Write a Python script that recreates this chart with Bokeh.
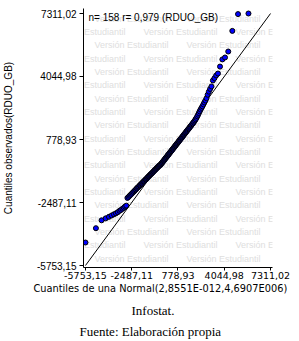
from bokeh.plotting import figure
from bokeh.models import Range1d, FixedTicker, CustomJSTickFormatter, Label, LabelSet, ColumnDataSource, Title
from bokeh.core.properties import value
from bokeh.embed import file_html
from bokeh.resources import INLINE

# ---- data ----
tick_values = [-5753.15, -2487.11, 778.93, 4044.98, 7311.02]

theoretical = [
    -5753.15, -5016, -4614, -4326, -4098, -3910, -3745, -3600, -3472, -3353,
    -3243, -3141, -3045, -2957, -2872, -2792, -2714, -2640, -2571, -2502,
    -2437, -2372, -2311, -2250, -2194, -2138, -2082, -2027, -1975, -1923,
    -1874, -1824, -1776, -1728, -1681, -1635, -1590, -1544, -1501, -1458,
    -1414, -1373, -1330, -1289, -1250, -1209, -1170, -1131, -1092, -1053,
    -1014, -977, -938, -901, -864, -827, -791, -754, -717, -680,
    -645, -609, -574, -537, -503, -468, -431, -396, -362, -327,
    -292, -258, -223, -188, -154, -119, -87, -52, -17, 17,
    52, 87, 119, 154, 188, 223, 258, 292, 327, 362,
    396, 431, 468, 503, 537, 574, 609, 645, 680, 717,
    754, 791, 827, 864, 901, 938, 977, 1014, 1053, 1092,
    1131, 1170, 1209, 1250, 1289, 1330, 1373, 1414, 1458, 1501,
    1544, 1590, 1635, 1681, 1728, 1776, 1824, 1874, 1923, 1975,
    2027, 2082, 2138, 2194, 2250, 2311, 2372, 2437, 2502, 2571,
    2640, 2714, 2792, 2872, 2957, 3045, 3141, 3243, 3353, 3472,
    3600, 3745, 3910, 4098, 4326, 4614, 5016, 5753.15,
]

observed = [
    -4561, -3819, -3410, -3310, -3230, -3160, -3100, -3050, -2990, -2920,
    -2870, -2810, -2760, -2700, -2650, -2250, -2200, -2140, -2090, -2040,
    -1990, -1945, -1900, -1850, -1810, -1760, -1720, -1680, -1650, -1600,
    -1570, -1530, -1500, -1460, -1420, -1390, -1360, -1320, -1290, -1260,
    -1230, -1190, -1160, -1130, -1100, -1070, -1040, -1010, -990, -960,
    -930, -900, -870, -840, -810, -790, -760, -730, -700, -680,
    -650, -630, -600, -570, -550, -540, -505, -470, -440, -410,
    -375, -345, -310, -280, -245, -210, -180, -150, -120, -85,
    -50, -20, 10, 45, 75, 110, 140, 175, 205, 240,
    270, 305, 340, 370, 405, 440, 470, 505, 540, 575,
    605, 640, 675, 710, 745, 780, 815, 850, 890, 925,
    960, 1000, 1035, 1075, 1110, 1150, 1190, 1230, 1270, 1310,
    1350, 1390, 1435, 1480, 1520, 1570, 1610, 1660, 1710, 1770,
    1830, 1900, 1980, 2060, 2150, 2240, 2330, 2420, 2500, 2600,
    2700, 2800, 2920, 3100, 3260, 3400, 3530, 3840, 3960, 4100,
    4200, 4560, 4930, 5030, 5340, 6410, 7280, 7311.02,
]

stats_text = "n= 158 r= 0,979 (RDUO_GB)"
y_label = "Cuantiles observados(RDUO_GB)"
x_label = "Cuantiles de una Normal(2,8551E-012,4,6907E006)"
caption1 = "Infostat."
caption2 = "Fuente: Elaboración propia"
watermark = "Versión Estudiantil"

# ---- layout ----
lo, hi = tick_values[0], tick_values[-1]
span = hi - lo
px_x = span / 188.0   # data units per pixel
px_y = span / 252.0

p = figure(width=299, height=341, output_backend="svg", toolbar_location=None,
           x_range=Range1d(lo - 2 * px_x, hi + 2 * px_x),
           y_range=Range1d(lo - 2 * px_y, hi + 5 * px_y),
           min_border_left=80, min_border_right=27,
           min_border_top=8, min_border_bottom=74,
           background_fill_color="white", border_fill_color="white",
           outline_line_color=None)
p.grid.visible = False

fmt = CustomJSTickFormatter(code="return tick.toFixed(2).replace('.', ',');")
for ax in (p.xaxis[0], p.yaxis[0]):
    ax.ticker = FixedTicker(ticks=tick_values, minor_ticks=[])
    ax.formatter = fmt
    ax.axis_line_color = "black"
    ax.axis_line_width = 1
    ax.major_tick_line_color = "black"
    ax.major_tick_in = 0
    ax.minor_tick_line_color = None
    ax.major_label_text_color = "black"

p.yaxis.major_tick_out = 4
p.yaxis.major_label_standoff = 3
p.yaxis.major_label_text_font = "Liberation Sans"
p.yaxis.major_label_text_font_size = "10px"
p.yaxis.axis_label = y_label
p.yaxis.axis_label_text_font = "Liberation Sans"
p.yaxis.axis_label_text_font_size = "10px"
p.yaxis.axis_label_text_font_style = "normal"
p.yaxis.axis_label_text_color = "black"
p.yaxis.axis_label_standoff = 20

p.xaxis.major_tick_out = 3
p.xaxis.major_label_standoff = 1
p.xaxis.major_label_text_font = "DejaVu Sans"
p.xaxis.major_label_text_font_size = "9.5px"

# titles below the x axis
p.add_layout(Title(text=x_label, align="left", offset=-50, standoff=0,
                   vertical_align="middle", text_font="DejaVu Sans",
                   text_font_size="9.8px", text_font_style="normal",
                   text_color="black"), "below")
p.add_layout(Title(text=caption1, align="left", offset=48, standoff=12,
                   vertical_align="bottom", text_font="Liberation Serif",
                   text_font_size="13px", text_font_style="normal",
                   text_color="black"), "below")
p.add_layout(Title(text=caption2, align="left", offset=-4, standoff=0,
                   vertical_align="top", text_font="Liberation Serif",
                   text_font_size="13px", text_font_style="normal",
                   text_color="black"), "below")

# watermark (behind the data), only where the plot area can show it
wx, wy, wt = [], [], []
for k in range(23):
    yy = 262 - 13.32 * k
    if yy < 4 or yy > 255:
        continue
    xs = [-124, -32, 60, 152] if k % 2 == 0 else [-81, 11, 103, 195]
    for xx in xs:
        if xx < -70 or xx > 185:
            continue
        wx.append(xx)
        wy.append(yy)
        wt.append(watermark)
wsrc = ColumnDataSource(dict(x=wx, y=wy, text=wt))
p.add_layout(LabelSet(x="x", y="y", text="text", source=wsrc,
                      x_units="screen", y_units="screen", level="underlay",
                      text_font=value("Liberation Sans"), text_font_size=value("9px"),
                      text_color="#dedede", text_baseline="middle",
                      text_align="left"))

# reference line y = x
p.line([lo, hi], [lo, hi], line_color="black", line_width=1)

# points
p.scatter(theoretical, observed, size=5, fill_color="#0000ff",
          line_color="black", line_width=1)

# statistics text at the top
p.add_layout(Label(x=5, y=250.5, x_units="screen", y_units="screen",
                   text=stats_text, text_font="Liberation Sans",
                   text_font_size="10px", text_color="black",
                   text_baseline="alphabetic", text_align="left"))

open("out.html", "w").write(file_html(p, INLINE))
